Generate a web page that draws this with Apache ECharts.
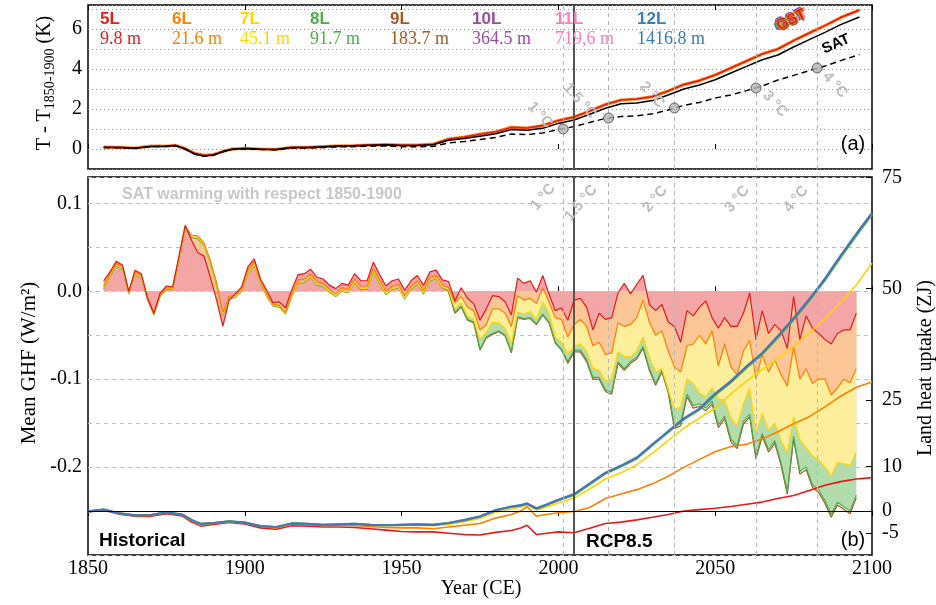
<!DOCTYPE html>
<html><head><meta charset="utf-8">
<script src="https://cdn.jsdelivr.net/npm/echarts@6/dist/echarts.min.js"></script>
<style>html,body{margin:0;padding:0;background:#fff}#c{width:936px;height:605px}</style>
</head><body><div id="c"></div>
<script>
// ---------- DATA ----------
const layerNames = ['5L','6L','7L','8L','9L','10L','11L','12L'];
const layerDepths = ['9.8 m','21.6 m','45.1 m','91.7 m','183.7 m','364.5 m','719,6 m','1416.8 m'];
const xTickYears = [1850,1900,1950,2000,2050,2100];

// panel (a): temperatures (K)
const topYears = [1855,1860,1865,1870,1875,1878,1881,1884,1887,1890,1893,1896,
 1900,1905,1910,1915,1920,1925,1930,1935,1940,1945,1950,1955,1960,1965,1970,1975,1980,1985,1990,1995,
 2000,2005,2010,2015,2020,2025,2030,2035,2040,2045,2050,2055,2060,2065,2070,2075,2080,2085,2090,2096];
const gst = [0.10,0.08,0.05,0.14,0.15,0.18,0.02,-0.22,-0.32,-0.28,-0.12,0.00,
 0.03,0.00,-0.02,0.08,0.08,0.12,0.16,0.17,0.20,0.22,0.19,0.20,0.24,0.50,0.60,0.74,0.86,1.08,1.05,1.17,
 1.42,1.60,1.90,2.22,2.45,2.50,2.62,2.90,3.22,3.42,3.70,4.05,4.40,4.75,5.00,5.42,5.80,6.17,6.57,6.95];
const satSolid = [0.08,0.07,0.04,0.13,0.14,0.17,0.00,-0.25,-0.35,-0.30,-0.13,-0.01,
 0.02,-0.01,-0.03,0.07,0.07,0.11,0.15,0.16,0.19,0.21,0.17,0.18,0.21,0.44,0.52,0.64,0.76,0.97,0.94,1.04,
 1.28,1.45,1.74,2.04,2.26,2.30,2.42,2.70,3.00,3.20,3.46,3.80,4.13,4.46,4.70,5.10,5.47,5.83,6.22,6.60];
const satDashed = [0.07,0.06,0.03,0.12,0.13,0.16,-0.01,-0.26,-0.36,-0.31,-0.14,-0.02,
 0.00,-0.02,-0.04,0.05,0.05,0.08,0.11,0.12,0.14,0.15,0.11,0.11,0.13,0.30,0.38,0.48,0.58,0.75,0.72,0.80,
 0.97,1.12,1.33,1.53,1.62,1.66,1.76,1.95,2.18,2.33,2.55,2.70,2.92,3.15,3.45,3.68,3.92,4.15,4.42,4.72];
const thresholdYears = [2001.5, 2016, 2037, 2063, 2082.5];
const thresholdLabels = ['1 °C','1.5 °C','2 °C','3 °C','4 °C'];
const thresholdSAT = [1.0, 1.55, 2.05, 3.05, 4.05];
const rcpStartYear = 2005;

// panel (b): mean ground heat flux (W/m2)
const ghfYears = [1855,1857,1859,1861,1863,1865,1867,1869,1871,1873,1875,1877,1879,1881,1883,1885,1887,1889,1891,1893,
 1895,1897,1899,1901,1903,1905,1907,1909,1911,1913,1915,1917,1919,1921,1923,1925,1927,1929,1931,1933,
 1935,1937,1939,1941,1943,1945,1947,1949,1951,1953,1955,1957,1959,1961,1963,
 1965,1967,1969,1971,1973,1975,1977,1979,1981,1983,1985,1987,1989,1991,1993,1995,1997,1999,2001,2003,
 2005,2007,2009,2011,2013,2015,2017,2019,2021,2023,2025,2027,2029,2031,2033,2035,2037,2039,2041,2043,
 2045,2047,2049,2051,2053,2055,2057,2059,2061,2063,2065,2067,2069,2071,2073,2075,2077,2079,2081,2083,
 2085,2087,2089,2091,2093,2095];
const ghf5L = [0.012,0.022,0.034,0.030,0.000,0.024,0.020,-0.008,-0.025,-0.002,
 0.006,0.005,0.040,0.075,0.058,0.044,0.040,0.016,-0.010,-0.040,
 -0.010,-0.003,0.005,0.028,0.037,0.014,0.001,-0.013,-0.012,-0.019,
 0.002,0.019,0.020,0.025,0.016,0.014,0.007,0.003,0.009,0.007,
 0.020,0.012,0.012,0.033,0.019,0.006,0.012,0.014,0.001,0.012,
 0.018,0.007,0.022,0.024,0.013,
 0.011,-0.011,0.004,-0.008,-0.014,-0.033,-0.020,-0.005,-0.006,-0.012,
 -0.027,0.015,0.009,0.012,-0.001,0.018,-0.003,-0.022,-0.019,-0.033,
 -0.010,-0.008,-0.018,-0.044,-0.025,-0.032,-0.030,-0.002,0.009,-0.003,
 0.008,0.018,-0.015,-0.022,-0.015,-0.035,-0.040,-0.058,-0.022,-0.028,
 -0.018,-0.011,-0.030,-0.042,-0.030,-0.040,-0.040,-0.025,-0.002,-0.055,
 -0.022,-0.048,-0.038,-0.045,-0.065,-0.006,-0.055,-0.028,-0.042,-0.048,
 -0.055,-0.060,-0.048,-0.044,-0.044,-0.025];
const ghf6L = [0.006,0.020,0.032,0.028,-0.001,0.022,0.018,-0.008,-0.025,-0.004,
 0.004,0.004,0.038,0.074,0.064,0.063,0.055,0.035,0.010,-0.024,
 -0.006,-0.004,0.003,0.024,0.034,0.012,-0.003,-0.015,-0.016,-0.024,
 -0.003,0.013,0.014,0.020,0.011,0.009,0.002,-0.003,0.004,0.002,
 0.014,0.006,0.006,0.026,0.013,0.000,0.006,0.008,-0.005,0.006,
 0.012,0.001,0.016,0.018,0.008,
 0.004,-0.013,-0.006,-0.018,-0.022,-0.044,-0.038,-0.020,-0.020,-0.025,
 -0.040,-0.005,-0.010,-0.008,-0.014,0.004,-0.012,-0.030,-0.032,-0.052,
 -0.038,-0.032,-0.040,-0.062,-0.058,-0.072,-0.070,-0.036,-0.040,-0.038,
 -0.030,-0.010,-0.035,-0.050,-0.045,-0.068,-0.086,-0.092,-0.062,-0.060,
 -0.050,-0.060,-0.045,-0.085,-0.060,-0.086,-0.095,-0.068,-0.056,-0.100,
 -0.072,-0.092,-0.078,-0.095,-0.108,-0.063,-0.100,-0.088,-0.105,-0.100,
 -0.100,-0.118,-0.110,-0.100,-0.104,-0.088];
const ghf7L = [0.004,0.018,0.030,0.026,-0.002,0.020,0.016,-0.009,-0.026,-0.005,
 0.003,0.003,0.036,0.072,0.062,0.061,0.053,0.033,0.008,-0.026,
 -0.008,-0.006,0.001,0.021,0.031,0.010,-0.005,-0.016,-0.017,-0.025,
 -0.005,0.010,0.011,0.017,0.008,0.006,0.000,-0.005,0.001,-0.001,
 0.011,0.003,0.003,0.023,0.010,-0.003,0.003,0.005,-0.008,0.003,
 0.009,-0.002,0.013,0.015,0.005,
 0.002,-0.020,-0.013,-0.028,-0.032,-0.055,-0.047,-0.035,-0.036,-0.042,
 -0.060,-0.024,-0.026,-0.023,-0.032,-0.012,-0.025,-0.052,-0.058,-0.071,
 -0.063,-0.060,-0.068,-0.088,-0.090,-0.102,-0.100,-0.069,-0.074,-0.075,
 -0.068,-0.052,-0.075,-0.092,-0.088,-0.112,-0.134,-0.132,-0.100,-0.105,
 -0.116,-0.120,-0.110,-0.122,-0.124,-0.145,-0.153,-0.128,-0.110,-0.162,
 -0.139,-0.158,-0.150,-0.170,-0.184,-0.143,-0.169,-0.178,-0.187,-0.192,
 -0.200,-0.210,-0.195,-0.196,-0.198,-0.183];
const ghf8L = [0.003,0.017,0.029,0.025,-0.003,0.019,0.015,-0.010,-0.027,-0.006,
 0.002,0.002,0.035,0.071,0.061,0.060,0.052,0.032,0.007,-0.027,
 -0.009,-0.007,0.000,0.020,0.030,0.009,-0.006,-0.017,-0.018,-0.026,
 -0.006,0.009,0.010,0.016,0.007,0.005,-0.001,-0.006,0.000,-0.002,
 0.010,0.002,0.002,0.022,0.009,-0.004,0.002,0.004,-0.009,0.002,
 0.008,-0.003,0.012,0.014,0.004,
 0.000,-0.024,-0.017,-0.032,-0.035,-0.066,-0.052,-0.048,-0.045,-0.050,
 -0.069,-0.029,-0.031,-0.030,-0.037,-0.026,-0.035,-0.058,-0.066,-0.080,
 -0.067,-0.067,-0.078,-0.098,-0.098,-0.112,-0.115,-0.080,-0.088,-0.080,
 -0.075,-0.063,-0.088,-0.105,-0.090,-0.112,-0.153,-0.150,-0.117,-0.130,
 -0.128,-0.133,-0.125,-0.152,-0.142,-0.168,-0.176,-0.148,-0.140,-0.188,
 -0.162,-0.180,-0.170,-0.195,-0.228,-0.165,-0.205,-0.200,-0.220,-0.226,
 -0.238,-0.254,-0.240,-0.245,-0.250,-0.232];
const ghf9LFromYear = 1965;
const ghf9L = [-0.001,-0.025,-0.018,-0.033,-0.036,-0.067,-0.053,-0.049,-0.046,-0.051,
 -0.070,-0.030,-0.032,-0.031,-0.038,-0.027,-0.036,-0.059,-0.067,-0.082,
 -0.069,-0.069,-0.080,-0.100,-0.100,-0.114,-0.117,-0.082,-0.090,-0.082,
 -0.077,-0.065,-0.090,-0.107,-0.092,-0.115,-0.156,-0.153,-0.120,-0.133,
 -0.131,-0.136,-0.128,-0.155,-0.145,-0.171,-0.179,-0.151,-0.143,-0.191,
 -0.165,-0.183,-0.173,-0.198,-0.231,-0.168,-0.208,-0.203,-0.223,-0.229,
 -0.241,-0.257,-0.243,-0.248,-0.253,-0.235];

// panel (b): land heat uptake (ZJ)
const heatYears = [1850,1855,1860,1865,1870,1875,1880,1883,1886,1890,1895,1900,1905,1910,1915,1920,1925,1930,1935,1940,
 1945,1950,1955,1960,1965,1970,1975,1980,1985,1988,1990,1993,1995,2000,2005,2010,2015,2020,2025,2030,
 2035,2040,2045,2050,2055,2060,2065,2070,2075,2080,2085,2090,2095,2100];
const heat5L = [-0.2,0.2,-0.7,-1.2,-1.2,-0.6,-1.1,-2.5,-3.4,-3.0,-2.6,-2.9,-3.8,-4.1,-3.3,-3.4,-3.6,-3.6,-3.7,-4.0,
 -4.3,-4.6,-4.7,-4.7,-5.0,-5.3,-5.4,-4.8,-4.4,-3.8,-3.2,-5.3,-5.1,-4.7,-4.9,-3.9,-2.8,-2.5,-2.0,-1.4,
 -0.8,0.0,0.3,0.6,1.0,1.5,2.0,2.8,3.5,4.6,5.8,6.6,7.2,7.5];
const heat6L = [-0.1,0.3,-0.5,-1.0,-1.0,-0.4,-0.9,-2.2,-3.2,-2.8,-2.4,-2.7,-3.5,-3.8,-3.0,-3.1,-3.3,-3.2,-3.3,-3.5,
 -3.7,-3.8,-3.8,-4.0,-3.6,-3.2,-2.8,-1.6,-0.8,0.0,1.0,-1.2,-0.9,-0.4,-0.1,0.8,2.8,3.8,4.8,6.1,
 7.8,9.8,11.6,13.3,14.5,15.0,16.2,17.8,19.6,21.2,23.4,25.8,27.8,29.0];
const heat7L = [-0.1,0.3,-0.5,-1.0,-0.9,-0.3,-0.8,-2.0,-2.9,-2.7,-2.3,-2.6,-3.4,-3.6,-2.8,-2.9,-3.1,-3.0,-3.0,-3.2,
 -3.3,-3.3,-3.2,-3.3,-3.0,-2.4,-1.7,-0.3,0.4,0.9,1.4,0.2,0.6,1.8,2.9,5.0,7.2,8.6,10.4,13.0,
 15.8,18.6,20.9,23.1,26.3,29.2,31.8,34.3,37.0,40.0,43.2,46.9,50.8,55.7];
const heat8L = [-0.1,0.3,-0.5,-1.0,-0.9,-0.3,-0.8,-2.0,-2.9,-2.7,-2.3,-2.6,-3.4,-3.6,-2.8,-2.9,-3.1,-3.0,-2.9,-3.1,
 -3.2,-3.1,-3.0,-3.1,-2.7,-2.1,-1.3,0.1,0.9,1.2,1.6,0.5,1.0,2.4,3.6,6.0,8.4,10.0,11.8,14.8,
 17.7,20.6,22.8,26.1,28.9,32.2,35.2,39.0,43.0,47.3,51.9,57.0,61.9,66.6];
const heat12L = [-0.1,0.3,-0.5,-1.0,-0.9,-0.3,-0.8,-2.0,-2.9,-2.7,-2.3,-2.6,-3.4,-3.6,-2.8,-2.9,-3.1,-3.0,-2.9,-3.1,
 -3.2,-3.1,-3.0,-3.1,-2.7,-2.0,-1.2,0.2,1.0,1.3,1.7,0.6,1.1,2.5,3.8,6.2,8.6,10.2,12.0,15.0,
 17.9,20.8,23.0,26.4,29.2,32.5,35.5,39.3,43.3,47.6,52.2,57.4,62.3,67.0];
const heatTicks = [75,50,25,10,0,-5];
const ghfLabelTicks = [0.1,0.0,-0.1,-0.2];
const tempLabelTicks = [0,2,4,6];

// ---------- STYLE ----------
const SERIF = '"Liberation Serif","Times New Roman",serif';
const SANS = '"Liberation Sans",Arial,sans-serif';
const C = {L5:'#e41a1c',L6:'#ff7f00',L7:'#ffd400',L8:'#4daf4a',L9:'#a65628',L10:'#984ea3',L11:'#f781bf',L12:'#377eb8'};
const layerColors = [C.L5,C.L6,'#ffd700',C.L8,C.L9,C.L10,C.L11,C.L12];
const fill = {L5:'#f4a5a5',L6:'#fdc696',L7:'#fdee9c',L8:'#b3dcad'};

function pairs(xs, ys){ return ys.map((y,i)=>[xs[i], y]); }
const ghf9LYears = ghfYears.slice(ghfYears.indexOf(ghf9LFromYear));

const chart = echarts.init(document.getElementById('c'), null, {renderer:'canvas', width:936, height:605});

const xCommon = {type:'value', min:1850, max:2100, interval:50, axisLine:{show:false},
  axisTick:{show:true, inside:true, length:5, lineStyle:{color:'#000', width:1}}, axisLabel:{show:false}, splitLine:{show:false}};

function lineS(name, xs, ys, color, width, xi, yi, extra){
  return Object.assign({type:'line', name, data:pairs(xs,ys), xAxisIndex:xi, yAxisIndex:yi, symbol:'none', showSymbol:false,
    lineStyle:{color, width}, itemStyle:{color}, silent:true, animation:false}, extra||{});
}
function areaS(name, ys, color){
  return {type:'line', name, data:pairs(ghfYears, ys), xAxisIndex:2, yAxisIndex:1, symbol:'none', showSymbol:false,
    lineStyle:{width:0, opacity:0}, areaStyle:{color, opacity:1, origin:0}, silent:true, animation:false, z:1};
}

const vlineData = thresholdYears.map(y=>({xAxis:y}));
vlineData.push({xAxis:rcpStartYear, lineStyle:{type:'solid', color:'#555', width:2}});

const series = [
  // panel (a)
  lineS('GSTo', topYears, gst, '#ff8c1a', 3.2, 0, 0, {z:3}),
  lineS('GST', topYears, gst, C.L5, 1.6, 0, 0, {z:4}),
  lineS('SAT', topYears, satSolid, '#000', 1.5, 0, 0, {z:4}),
  lineS('SATd', topYears, satDashed, '#000', 1.5, 0, 0, {z:4, lineStyle:{color:'#000', width:1.5, type:[6,4]},
    markLine:{silent:true, symbol:['none','none'], label:{show:false}, lineStyle:{type:[4,4], color:'#b5b5b5', width:1}, data:vlineData, animation:false}}),
  {type:'scatter', xAxisIndex:0, yAxisIndex:0, data:pairs(thresholdYears, thresholdSAT), symbolSize:10,
    itemStyle:{color:'#b4b4b4', borderColor:'#444', borderWidth:1}, z:6, silent:true, animation:false},
  // panel (b) areas
  areaS('a8', ghf8L, fill.L8), areaS('a7', ghf7L, fill.L7), areaS('a6', ghf6L, fill.L6), areaS('a5', ghf5L, fill.L5),
  // panel (b) GHF lines
  lineS('g9', ghf9LYears, ghf9L, C.L9, 1.2, 2, 1, {z:2}),
  lineS('g8', ghfYears, ghf8L, C.L8, 1.2, 2, 1, {z:2}),
  lineS('g7', ghfYears, ghf7L, C.L7, 1.2, 2, 1, {z:2}),
  lineS('g6', ghfYears, ghf6L, C.L6, 1.2, 2, 1, {z:2}),
  lineS('g5', ghfYears, ghf5L, C.L5, 1.2, 2, 1, {z:2}),
  // panel (b) heat uptake
  lineS('h5', heatYears, heat5L, C.L5, 1.6, 2, 2, {z:3}),
  lineS('h6', heatYears, heat6L, C.L6, 1.6, 2, 2, {z:3}),
  lineS('h7', heatYears, heat7L, C.L7, 1.6, 2, 2, {z:3}),
  lineS('h8', heatYears, heat8L, C.L8, 2.2, 2, 2, {z:3}),
  lineS('h12', heatYears, heat12L, '#4a74b4', 2.2, 2, 2, {z:3,
    markLine:{silent:true, symbol:['none','none'], label:{show:false}, lineStyle:{type:[4,4], color:'#b5b5b5', width:1},
      data: vlineData.concat([{yAxis:0, lineStyle:{type:'solid', color:'#000', width:1.2}}]), animation:false}})
];

function txt(x, y, text, font, color, rot, align){
  return {type:'text', x, y, rotation:rot||0, silent:true, z:50,
    style:{text, font, fill:color, align:align||'center', verticalAlign:'middle', textAlign:align||'center', textVerticalAlign:'middle'}};
}
const legendX = [100,172,240,310,390,472,555,637];
const graphics = [];
layerNames.forEach((n,i)=>{
  graphics.push(txt(legendX[i], 19, n, 'bold 17px '+SANS, layerColors[i], 0, 'left'));
  graphics.push(txt(legendX[i], 39, layerDepths[i], '18px '+SERIF, layerColors[i], 0, 'left'));
});
// rainbow GST label (one copy per layer colour, slightly offset)
const gstCols = [C.L12, C.L11, C.L10, C.L9, C.L8, '#ffd700', C.L6, C.L5];
const gstOff = [[-2.4,1.2],[2.2,-1.0],[-1.6,-1.4],[1.4,1.6],[-0.8,0.6],[0.8,-0.6],[-0.3,0.3],[0.3,-0.2]];
gstCols.forEach((c,i)=>graphics.push(txt(791+gstOff[i][0], 20+gstOff[i][1], 'GST', 'bold 15px '+SANS, c, 0.45)));
graphics.push(txt(836, 44, 'SAT', 'bold 15px '+SANS, '#000', 0.42));
const topLblPos = [[540,115],[580,101],[652,95],[775,104],[835,85]];
const botLblPos = [[543,197],[581,203],[655,199],[737,199],[796,199]];
thresholdLabels.forEach((t,i)=>{
  graphics.push(txt(topLblPos[i][0], topLblPos[i][1], t, 'bold 15px '+SANS, '#bdbdbd', -0.85));
  graphics.push(txt(botLblPos[i][0], botLblPos[i][1], t, 'bold 15px '+SANS, '#bdbdbd', 0.87));
});
graphics.push(txt(262, 195, 'SAT warming with respect 1850-1900', 'bold 16px '+SANS, '#c8c8c8'));
graphics.push(txt(99, 541, 'Historical', 'bold 19px '+SANS, '#000', 0, 'left'));
graphics.push(txt(586, 542, 'RCP8.5', 'bold 19px '+SANS, '#000', 0, 'left'));
graphics.push(txt(853, 144, '(a)', '20px '+SANS, '#000'));
graphics.push(txt(853, 540, '(b)', '20px '+SANS, '#000'));
graphics.push(txt(481, 589, 'Year (CE)', '20px '+SERIF, '#000'));
graphics.push(txt(29, 363, 'Mean GHF (W/m²)', '21px '+SERIF, '#000', Math.PI/2));
graphics.push(txt(926, 368, 'Land heat uptake (ZJ)', '20px '+SERIF, '#000', Math.PI/2));
graphics.push({type:'text', x:45, y:83, rotation:Math.PI/2, silent:true, z:50,
  style:{text:'{a|T - T}{s|1850-1900}{a| (K)}', align:'center', verticalAlign:'middle', textAlign:'center', textVerticalAlign:'middle',
    rich:{a:{fontFamily:SERIF, fontSize:20, fill:'#000', color:'#000', lineHeight:24},
          s:{fontFamily:SERIF, fontSize:14, fill:'#000', color:'#000', lineHeight:14, verticalAlign:'bottom'}}}});

function near(v, arr){ return arr.some(t=>Math.abs(t-v)<1e-6); }

chart.setOption({
  animation:false,
  backgroundColor:'#fff',
  grid:[
    {left:88, top:5, width:784, height:164, show:true, borderColor:'#000', borderWidth:1.5, backgroundColor:'rgba(0,0,0,0)', containLabel:false, outerBoundsMode:'none'},
    {left:88, top:177, width:784, height:378, show:true, borderColor:'#000', borderWidth:1.5, backgroundColor:'rgba(0,0,0,0)', containLabel:false, outerBoundsMode:'none'}
  ],
  xAxis:[
    Object.assign({}, xCommon, {gridIndex:0, position:'bottom'}),
    Object.assign({}, xCommon, {gridIndex:0, position:'top'}),
    Object.assign({}, xCommon, {gridIndex:1, position:'bottom',
      axisLabel:{show:true, fontFamily:SERIF, fontSize:20, color:'#000', margin:4,
        formatter:v=>near(v, xTickYears)?String(v):''}}),
    Object.assign({}, xCommon, {gridIndex:1, position:'top'})
  ],
  yAxis:[
    {gridIndex:0, type:'value', min:-1, max:7.2, interval:1, axisLine:{show:false}, axisTick:{show:false},
      axisLabel:{fontFamily:SERIF, fontSize:20, color:'#000', margin:6,
        formatter:v=>near(v,tempLabelTicks)?String(Math.round(v)):''},
      splitLine:{show:true, lineStyle:{type:[1,3], color:'#9a9a9a', width:1}}},
    {gridIndex:1, type:'value', min:-0.3, max:0.13, interval:0.05, axisLine:{show:false}, axisTick:{show:false},
      axisLabel:{fontFamily:SERIF, fontSize:20, color:'#000', margin:6,
        formatter:v=>{const r=Math.round(v*100)/100; return near(r,ghfLabelTicks)?(Math.abs(r)<1e-9?'0.0':r.toFixed(1)):'';}},
      splitLine:{show:true, lineStyle:{type:[4,4], color:'#bdbdbd', width:1}}},
    {gridIndex:1, type:'value', position:'right', min:-9.89, max:75.06, axisLine:{show:false},
      axisTick:{show:true, inside:true, length:6, customValues:heatTicks, lineStyle:{color:'#000'}},
      axisLabel:{show:true, customValues:heatTicks, fontFamily:SERIF, fontSize:20, color:'#000', margin:10},
      splitLine:{show:false}}
  ],
  series,
  graphic:{elements:graphics}
});
</script></body></html>
